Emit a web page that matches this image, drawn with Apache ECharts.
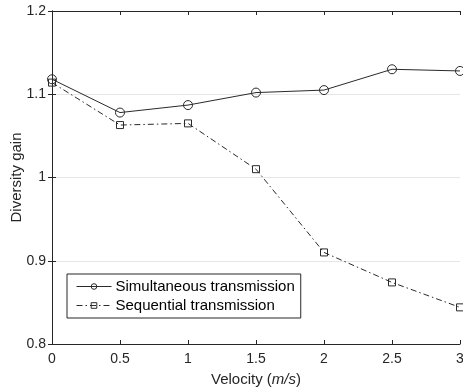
<!DOCTYPE html>
<html>
<head>
<meta charset="utf-8">
<script src="https://cdn.jsdelivr.net/npm/echarts@6/dist/echarts.min.js"></script>
<style>html,body{margin:0;padding:0;background:#fff}#c{width:463px;height:390px}</style>
</head>
<body>
<div id="c"></div>
<script>
const velocity = [0, 0.5, 1, 1.5, 2, 2.5, 3];
const simultaneous = [1.118, 1.078, 1.087, 1.102, 1.105, 1.130, 1.128];
const sequential = [1.114, 1.063, 1.065, 1.010, 0.910, 0.874, 0.844];
const seriesNames = ['Simultaneous transmission', 'Sequential transmission'];
const xTitle = 'Velocity ({i|m/s})';
const yTitle = 'Diversity gain';

const txt = '#262626';
const lineCol = '#2a2a2a';
const font = 'Liberation Sans, Arial, sans-serif';
const chart = echarts.init(document.getElementById('c'));
const pair = (xs, ys) => xs.map((x, i) => [x, ys[i]]);
const mirrorAxis = {
  axisLine: {show: true, lineStyle: {color: txt, width: 1}},
  axisTick: {show: true, inside: true, length: 4, lineStyle: {color: txt}},
  axisLabel: {show: false},
  splitLine: {show: false}
};
chart.setOption({
  animation: false,
  backgroundColor: '#fff',
  grid: {left: 52, right: 3, top: 11, bottom: 46, outerBoundsMode: 'none', containLabel: false},
  legend: {
    orient: 'vertical',
    left: 67, top: 274,
    padding: [5, 6, 5, 9],
    itemGap: 4,
    itemWidth: 35,
    itemHeight: 7,
    borderColor: txt,
    borderWidth: 1,
    backgroundColor: '#fff',
    itemStyle: {borderWidth: 1},
    lineStyle: {width: 1},
    textStyle: {fontFamily: font, fontSize: 15, color: '#000', padding: [0, 0, 0, -1]},
    data: seriesNames
  },
  xAxis: [{
    type: 'value', min: 0, max: 3, interval: 0.5,
    name: xTitle, nameLocation: 'middle', nameGap: 28, nameMoveOverlap: false,
    nameTextStyle: {fontFamily: font, fontSize: 15, color: txt,
      rich: {i: {fontFamily: font, fontSize: 15, color: txt, fontStyle: 'italic'}}},
    axisLine: {show: true, onZero: false, lineStyle: {color: txt, width: 1}},
    axisTick: {show: true, inside: true, length: 4, lineStyle: {color: txt}},
    axisLabel: {fontFamily: font, fontSize: 14, color: txt, margin: 8},
    splitLine: {show: false}
  }, Object.assign({type: 'value', min: 0, max: 3, interval: 0.5, position: 'top'}, mirrorAxis)],
  yAxis: [{
    type: 'value', min: 0.8, max: 1.2, interval: 0.1,
    name: yTitle, nameLocation: 'middle', nameGap: 28, nameMoveOverlap: false,
    nameTextStyle: {fontFamily: font, fontSize: 15, color: txt},
    axisLine: {show: true, onZero: false, lineStyle: {color: txt, width: 1}},
    axisTick: {show: true, inside: true, length: 4, lineStyle: {color: txt}},
    axisLabel: {fontFamily: font, fontSize: 14, color: txt, margin: 6},
    splitLine: {show: true, lineStyle: {color: '#e6e6e6', width: 1}}
  }, Object.assign({type: 'value', min: 0.8, max: 1.2, interval: 0.1, position: 'right'}, mirrorAxis)],
  series: [{
    name: seriesNames[0], type: 'line',
    data: pair(velocity, simultaneous),
    symbol: 'circle', symbolSize: 9,
    itemStyle: {color: 'rgba(255,255,255,0)', borderColor: lineCol, borderWidth: 1},
    lineStyle: {color: lineCol, width: 1},
    z: 3
  }, {
    name: seriesNames[1], type: 'line',
    data: pair(velocity, sequential),
    symbol: 'rect', symbolSize: 7,
    itemStyle: {color: 'rgba(255,255,255,0)', borderColor: lineCol, borderWidth: 1},
    lineStyle: {color: lineCol, width: 1, type: [6, 3, 1.5, 3]},
    z: 3
  }]
});
</script>
</body>
</html>
